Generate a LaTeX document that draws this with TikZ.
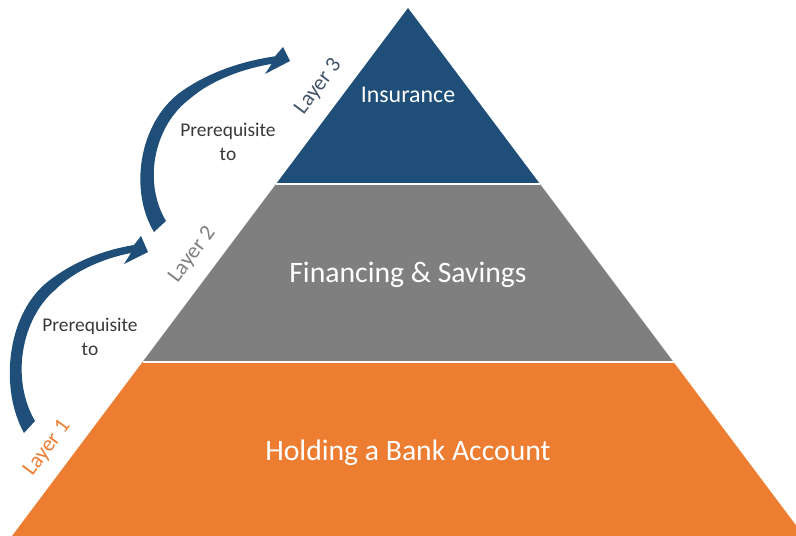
\documentclass[tikz,border=0pt]{standalone}
\usepackage{fontspec}
\setmainfont{Carlito}
\usepackage{tikz}
\definecolor{insblue}{HTML}{1F4E79}
\definecolor{savegray}{HTML}{7F7F7F}
\definecolor{bankorange}{HTML}{ED7D31}
\definecolor{layerslate}{HTML}{44546A}
\definecolor{prereqtxt}{HTML}{3B3838}

\begin{document}
\begin{tikzpicture}[x=1bp,y=-1bp,
  tier/.style={fill=#1},
  tiertext/.style={text=white,anchor=base,font=\fontsize{#1}{#1}\selectfont},
  tierlbl/.style={sloped,above=12bp,text=#1,font=\fontsize{22}{26}\selectfont},
  prereq/.style={text=prereqtxt,align=center,font=\fontsize{19.5}{24}\selectfont},
  bendarrow/.style={fill=insblue}]
\clip (0,0) rectangle (796,536);
\coordinate (apex) at (408,8);
\coordinate (l3) at (276,184);
\coordinate (r3) at (540,184);
\coordinate (l2) at (142.5,362);
\coordinate (r2) at (673.5,362);
\coordinate (l1) at (12,536);
\coordinate (r1) at (804,536);
\fill[tier=bankorange] (l2) -- (r2) -- (r1) -- (l1) -- cycle;
\fill[tier=savegray] (l3) -- (r3) -- (r2) -- (l2) -- cycle;
\fill[tier=insblue] (apex) -- (r3) -- (l3) -- cycle;
\draw[white,line width=1.5bp] (l3) -- (r3) (l2) -- (r2);
\node[tiertext=24] (insurance) at (408,103) {Insurance};
\node[tiertext=29.8] (savings) at (408,283) {Financing \& Savings};
\node[tiertext=29.8] (account) at (408,460) {Holding a Bank Account};
\path (l1) -- node[pos=0.42,tierlbl=bankorange] (lbl1) {Layer 1} (l2);
\path (l2) -- node[pos=0.52,tierlbl=savegray] (lbl2) {Layer 2} (l3);
\path (l3) -- node[pos=0.47,tierlbl=layerslate] (lbl3) {Layer 3} (apex);
\fill[bendarrow] (24,433) .. controls (0,390) and (6,318) .. (45,284)
  .. controls (75,259) and (110,249) .. (134,245) -- (141,236) -- (148,252)
  -- (124,264) -- (131,253) .. controls (105,258) and (75,270) .. (55,290)
  .. controls (22,318) and (10,378) .. (35,421) -- cycle;
\fill[bendarrow] (154,232) .. controls (129.5,191.8) and (137.9,124.6) .. (179.6,92.8)
  .. controls (211.8,69.4) and (249.2,60.1) .. (275,56.3) -- (283,47) -- (290,61)
  -- (265,74) -- (271.7,63.9) .. controls (243.9,68.5) and (211.8,79.8) .. (190.3,98.4)
  .. controls (154.9,124.6) and (142,180.6) .. (166,221) -- cycle;
\node[prereq] (pre1) at (90,337) {Prerequisite\\to};
\node[prereq] (pre2) at (228,142) {Prerequisite\\to};
\end{tikzpicture}
\end{document}
